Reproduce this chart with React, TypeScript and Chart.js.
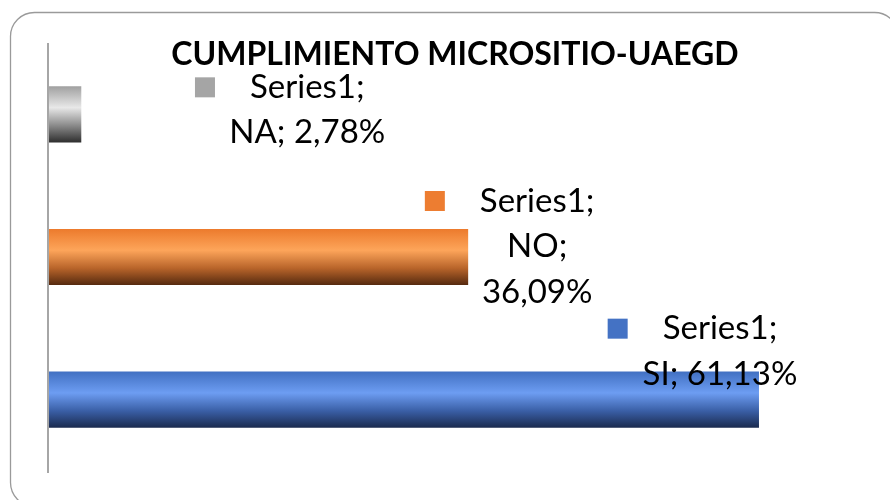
import React, { useEffect, useRef } from "react";
import { Chart, registerables } from "chart.js";

Chart.register(...registerables);

const TITLE = "CUMPLIMIENTO MICROSITIO-UAEGD";
const SERIES_NAME = "Series1";
const categories = ["NA", "NO", "SI"];
const values = [0.0278, 0.3609, 0.6113];
const valueLabels = ["2,78%", "36,09%", "61,13%"];
const keyColors = ["#a5a5a5", "#ed7d31", "#4472c4"];
const gradientStops: [number, string][][] = [
  [[0, "#a0a0a0"], [0.38, "#e8e8e8"], [0.7, "#8a8a8a"], [1, "#2e2e2e"]],
  [[0, "#ec7a2c"], [0.38, "#fda55a"], [0.7, "#b8642a"], [1, "#55290f"]],
  [[0, "#4170c2"], [0.38, "#6d9df2"], [0.7, "#3a5fa6"], [1, "#1a2a4e"]],
];
// label layout (style): lines of text per category, offsets relative to bar end/center
const labelLines = [
  [`${SERIES_NAME};`, `${categories[0]}; ${valueLabels[0]}`],
  [`${SERIES_NAME};`, `${categories[1]};`, valueLabels[1]],
  [`${SERIES_NAME};`, `${categories[2]}; ${valueLabels[2]}`],
];
const labelDx = [226, 69, -39];
const labelDy = [[-27, 18], [-56, -11, 35], [-71, -25]];

export default function App() {
  const ref = useRef<HTMLCanvasElement>(null);
  useEffect(() => {
    const canvas = ref.current!;
    const barPct = 0.394;
    const decor = {
      id: "decor",
      beforeDraw(chart: any) {
        const ctx = chart.ctx;
        ctx.save();
        ctx.fillStyle = "#ffffff";
        ctx.fillRect(0, 0, chart.width, chart.height);
        ctx.beginPath();
        ctx.roundRect(10.5, 12.5, 888, 494, 24);
        ctx.strokeStyle = "#9a9a9a";
        ctx.lineWidth = 1.3;
        ctx.stroke();
        ctx.restore();
      },
      afterDatasetsDraw(chart: any) {
        const ctx = chart.ctx;
        const ca = chart.chartArea;
        ctx.save();
        ctx.strokeStyle = "#a6a6a6";
        ctx.lineWidth = 2;
        ctx.beginPath();
        ctx.moveTo(ca.left - 1, ca.top);
        ctx.lineTo(ca.left - 1, ca.bottom + 2);
        ctx.stroke();
        // title
        ctx.fillStyle = "#000";
        ctx.font = "bold 32px Lato";
        ctx.textAlign = "center";
        ctx.textBaseline = "middle";
        ctx.fillText(TITLE, 455, 55);
        // data labels
        const meta = chart.getDatasetMeta(0);
        ctx.font = "33px Lato";
        meta.data.forEach((bar: any, i: number) => {
          const cx = bar.x + labelDx[i];
          labelLines[i].forEach((line, j) => {
            const y = bar.y + labelDy[i][j];
            ctx.fillStyle = "#000";
            ctx.textAlign = "center";
            ctx.fillText(line, cx, y);
            if (j === 0) {
              const w = ctx.measureText(line).width;
              const sx = cx - w / 2 - 35 - 20;
              ctx.fillStyle = keyColors[i];
              ctx.fillRect(sx, y - 10, 20, 20);
            }
          });
        });
        ctx.restore();
      },
    };
    const chart = new Chart(canvas, {
      type: "bar",
      data: {
        labels: categories,
        datasets: [
          {
            label: SERIES_NAME,
            data: values,
            backgroundColor: (c: any) => {
              const chart = c.chart;
              const y = chart.scales?.y;
              const i = c.dataIndex ?? 0;
              if (!y || c.type !== "data") return keyColors[i];
              const yc = y.getPixelForValue(i);
              const half = (y.height / categories.length) * barPct / 2;
              if (!isFinite(yc) || !isFinite(half) || half <= 0) return keyColors[i];
              const g = chart.ctx.createLinearGradient(0, yc - half, 0, yc + half);
              gradientStops[i].forEach(([o, col]) => g.addColorStop(o, col));
              return g;
            },
            borderWidth: 0,
            categoryPercentage: 1,
            barPercentage: barPct,
          },
        ],
      },
      options: {
        indexAxis: "y",
        responsive: false,
        animation: false,
        layout: { padding: { left: 49, top: 43, right: 28, bottom: 29 } },
        scales: {
          x: { display: false, min: 0, max: 0.7 },
          y: { display: false },
        },
        plugins: {
          legend: { display: false },
          title: { display: false },
          tooltip: { enabled: false },
        },
      },
      plugins: [decor],
    });
    return () => chart.destroy();
  }, []);
  return (
    <div style={{ position: "absolute", left: 0, top: 0, width: 890, height: 500 }}>
      <canvas ref={ref} width={890} height={500} style={{ display: "block" }} />
    </div>
  );
}
